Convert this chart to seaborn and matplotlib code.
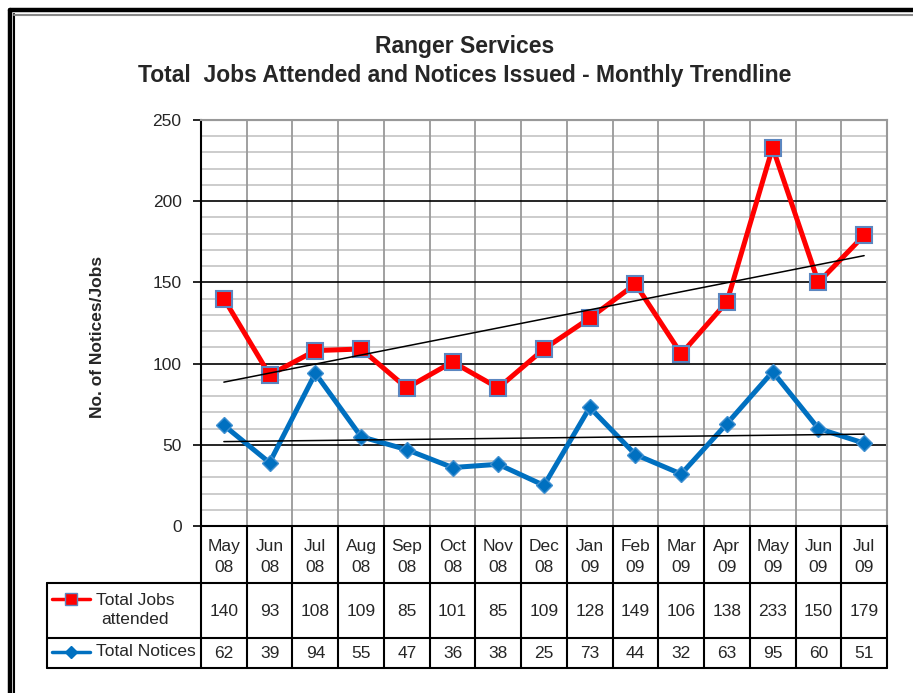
import numpy as np
import pandas as pd
import matplotlib
matplotlib.use("Agg")
import matplotlib.pyplot as plt
from matplotlib.lines import Line2D
from matplotlib.transforms import blended_transform_factory
import seaborn as sns

months = ["May\n08", "Jun\n08", "Jul\n08", "Aug\n08", "Sep\n08", "Oct\n08", "Nov\n08",
          "Dec\n08", "Jan\n09", "Feb\n09", "Mar\n09", "Apr\n09", "May\n09", "Jun\n09", "Jul\n09"]
jobs = [140, 93, 108, 109, 85, 101, 85, 109, 128, 149, 106, 138, 233, 150, 179]
notices = [62, 39, 94, 55, 47, 36, 38, 25, 73, 44, 32, 63, 95, 60, 51]
series_names = ["Total Jobs\nattended", "Total Notices"]
title = "Ranger Services\nTotal  Jobs Attended and Notices Issued - Monthly Trendline"
ylabel = "No. of Notices/Jobs"

sns.set_style("white")
plt.rcParams['font.family'] = ['Liberation Sans', 'DejaVu Sans']

W, H = 913, 693
fig = plt.figure(figsize=(W / 100, H / 100), dpi=100)

def fx(x):
    return x / W

def fy(y):
    return 1 - y / H

L, R, T, B = 201, 887, 120, 526
ax = fig.add_axes([fx(L), fy(B), fx(R) - fx(L), fy(T) - fy(B)])

idx = np.arange(len(months))
df = pd.DataFrame({"idx": idx, "jobs": jobs, "notices": notices})

red = "#FF0000"
blue = "#0070C0"

sns.lineplot(data=df, x="idx", y="jobs", ax=ax, color=red, lw=3.6, marker="s",
             markersize=11, markeredgecolor="#5B86C0", markeredgewidth=1.5, zorder=4)
sns.lineplot(data=df, x="idx", y="notices", ax=ax, color=blue, lw=3.6, marker="D",
             markersize=8, markeredgecolor="#3F8FD0", markeredgewidth=1.0, zorder=4)
sns.regplot(data=df, x="idx", y="jobs", ax=ax, scatter=False, ci=None, truncate=True,
            line_kws=dict(color="black", lw=1.1, zorder=5))
sns.regplot(data=df, x="idx", y="notices", ax=ax, scatter=False, ci=None, truncate=True,
            line_kws=dict(color="black", lw=1.1, zorder=5))

ax.set_xlim(-0.5, len(months) - 0.5)
ax.set_ylim(0, 250)
ax.set_xlabel("")
ax.set_ylabel("")
ax.set_xticks([])
ax.set_yticks(np.arange(0, 251, 50))
ax.set_yticklabels([str(v) for v in range(0, 251, 50)], fontsize=12.5)
ax.tick_params(axis="y", direction="out", length=6, width=1.2, color="black", pad=8, left=True)

# gridlines
for v in range(10, 250, 10):
    if v % 50 != 0:
        ax.axhline(v, color="#CCCCCC", lw=1.4, zorder=1)
for v in range(50, 250, 50):
    ax.axhline(v, color="black", lw=1.2, zorder=2)
ax.axhline(250, color="#999999", lw=1.5, zorder=2)
for i in range(1, len(months)):
    ax.axvline(i - 0.5, color="#999999", lw=1.3, zorder=1)

for s in ["top", "right"]:
    ax.spines[s].set_color("#999999")
    ax.spines[s].set_linewidth(1.5)
ax.spines["left"].set_color("black")
ax.spines["left"].set_linewidth(1.5)
ax.spines["bottom"].set_color("black")
ax.spines["bottom"].set_linewidth(1.5)

# Title and y label
fig.text(fx(465), fy(61), title, ha="center", va="center", fontsize=16.5,
         fontweight="bold", linespacing=1.35)
fig.text(fx(97), fy(337), ylabel, ha="center", va="center", rotation=90,
         fontsize=12.5, fontweight="bold")

# data table
trans = blended_transform_factory(ax.transData, fig.transFigure)
lc = "black"
fig.add_artist(Line2D([fx(47), fx(R)], [fy(583), fy(583)], color=lc, lw=1.5))
fig.add_artist(Line2D([fx(47), fx(R)], [fy(638), fy(638)], color=lc, lw=1.5))
fig.add_artist(Line2D([fx(47), fx(R)], [fy(668), fy(668)], color=lc, lw=1.5))
fig.add_artist(Line2D([fx(47), fx(47)], [fy(583), fy(668)], color=lc, lw=1.5))
for i in range(len(months) + 1):
    xb = i - 0.5
    fig.add_artist(Line2D([xb, xb], [fy(526), fy(668)], color=lc, lw=1.5, transform=trans))

for i, m in enumerate(months):
    fig.text(i, fy(557), m, transform=trans, ha="center", va="center", fontsize=12.5, linespacing=1.5)
    fig.text(i, fy(611), str(jobs[i]), transform=trans, ha="center", va="center", fontsize=12.5)
    fig.text(i, fy(653), str(notices[i]), transform=trans, ha="center", va="center", fontsize=12.5)

# legend keys
fig.add_artist(Line2D([fx(52), fx(90)], [fy(599), fy(599)], color=red, lw=2.5))
fig.add_artist(Line2D([fx(71)], [fy(599)], color=red, lw=0, marker="s", markersize=8,
                      markeredgecolor="#5B86C0", markeredgewidth=1.0))
fig.add_artist(Line2D([fx(52), fx(90)], [fy(652), fy(652)], color=blue, lw=2.5))
fig.add_artist(Line2D([fx(71)], [fy(652)], color=blue, lw=0, marker="D", markersize=6,
                      markeredgecolor=blue))
fig.text(fx(135), fy(610), series_names[0], ha="center", va="center", fontsize=12.5, linespacing=1.3)
fig.text(fx(146), fy(652), series_names[1], ha="center", va="center", fontsize=12.5)

# outer border (double line, left and top)
fig.add_artist(Line2D([fx(9.5), fx(9.5)], [fy(9.5), fy(H + 5)], color="black", lw=3.2))
fig.add_artist(Line2D([fx(13.5), fx(13.5)], [fy(13.5), fy(H + 5)], color="black", lw=1.5))
fig.add_artist(Line2D([fx(9.5), fx(W + 5)], [fy(9.5), fy(9.5)], color="black", lw=3.2))
fig.add_artist(Line2D([fx(13.5), fx(W + 5)], [fy(14.5), fy(14.5)], color="#888888", lw=1.5))

fig.savefig("out.png", dpi=100)
